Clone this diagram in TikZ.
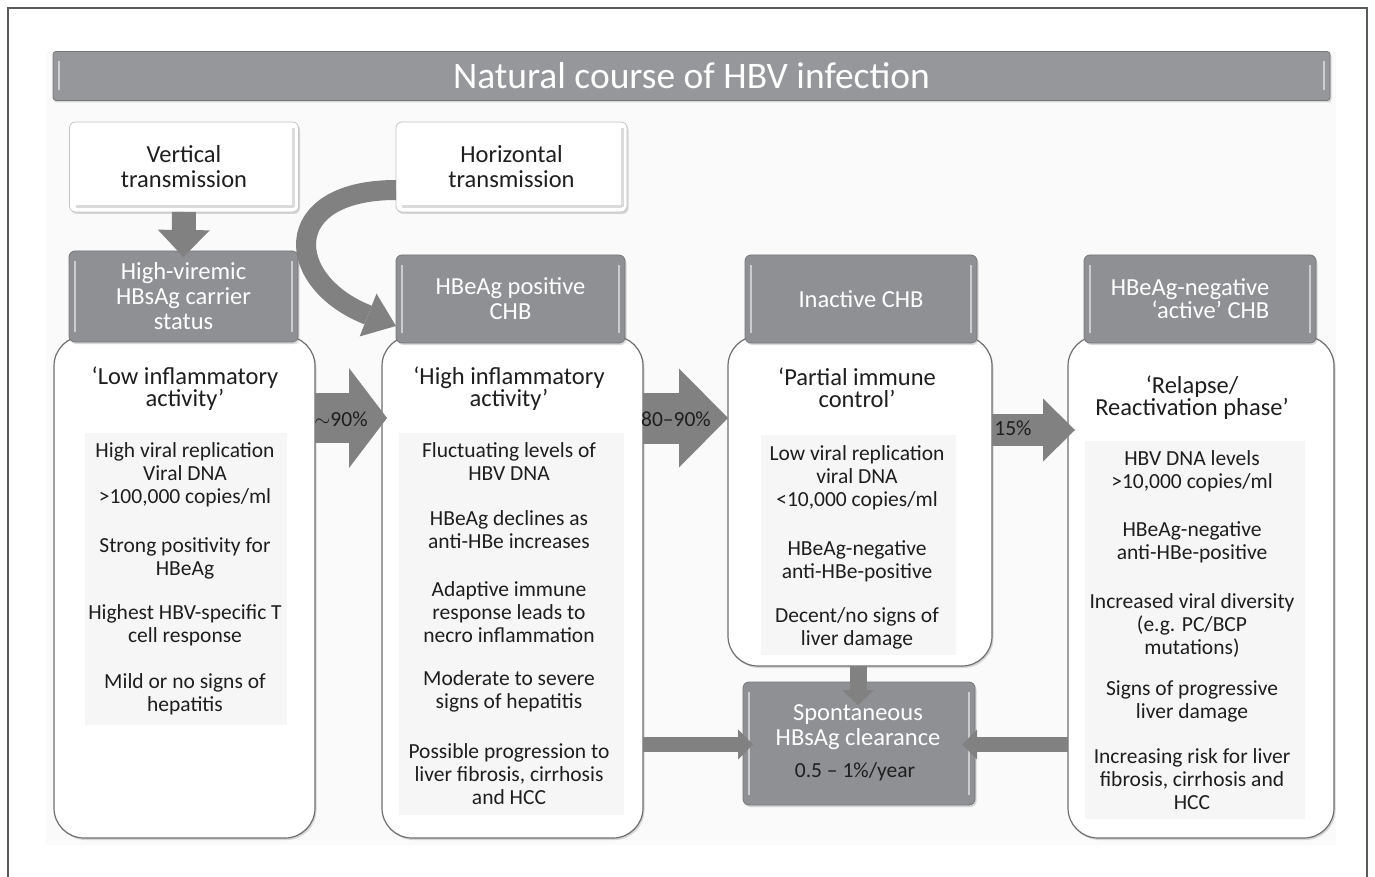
\documentclass[tikz,border=0pt]{standalone}
\usepackage{fontspec}
\setmainfont{Carlito}
\usetikzlibrary{arrows.meta,shadows,calc}
\definecolor{hdr}{HTML}{8F9093}
\definecolor{hdrline}{HTML}{76777A}
\definecolor{arr}{HTML}{818181}
\definecolor{titlec}{HTML}{96979A}
\definecolor{tline}{HTML}{6F6F6F}
\definecolor{lbline}{HTML}{C4C4C4}
\definecolor{bgpanel}{HTML}{FAFAFA}
\definecolor{txtpanel}{HTML}{F6F6F6}
\definecolor{txt}{HTML}{1E1E1E}
\definecolor{framec}{HTML}{5A5A5A}
\begin{document}
\begin{tikzpicture}[x=1pt,y=-1pt,
  every node/.style={inner sep=0pt, outer sep=0pt},
  shadowed/.style={drop shadow={shadow xshift=1.5pt, shadow yshift=-2pt, opacity=0.3}},
  hilite/.style={path picture={\draw[white, line width=1.6pt, opacity=0.55]
      ([xshift=6pt,yshift=-10pt]path picture bounding box.north west) -- ([xshift=6pt,yshift=10pt]path picture bounding box.south west)
      ([xshift=-6pt,yshift=-10pt]path picture bounding box.north east) -- ([xshift=-6pt,yshift=10pt]path picture bounding box.south east);}},
  lowlite/.style={path picture={\draw[black!14, line width=3pt]
      ([xshift=-5pt,yshift=-6pt]path picture bounding box.north east) -- ([xshift=-5pt,yshift=5pt]path picture bounding box.south east)
      ([xshift=6pt,yshift=5pt]path picture bounding box.south west) -- ([xshift=-5pt,yshift=5pt]path picture bounding box.south east);}},
  titlebar/.style={draw=hdrline, line width=0.8pt, fill=titlec, rounded corners=3pt, text=white, font=\fontsize{37.5}{38}\selectfont, shadowed, hilite},
  darkbox/.style={draw=hdrline, line width=0.8pt, fill=hdr, rounded corners=6pt, text=white, align=center, font=\fontsize{24.5}{25}\selectfont, shadowed, hilite},
  lightbox/.style={draw=lbline, line width=0.8pt, fill=white, rounded corners=6pt, text=txt, align=center, font=\fontsize{24.5}{25}\selectfont, shadowed, lowlite},
  tallbox/.style={draw=tline, line width=1.2pt, fill=white, rounded corners=30pt, shadowed},
  panelbox/.style={fill=txtpanel},
  body/.style={text=txt, align=center, font=\fontsize{21.5}{23}\selectfont},
  quotetxt/.style={text=txt, align=center, font=\fontsize{24.5}{22}\selectfont},
  pct/.style={text=txt, font=\fontsize{21.5}{22}\selectfont},
  blockarr/.style={draw=arr, line width=#1},
]
\useasboundingbox (0,0) rectangle (1375,877);
% background panel and frame
\fill[bgpanel] (46,52) rectangle (1336,845);
\draw[framec, line width=1.3pt] (8,877) -- (8,8) -- (1367,8) -- (1367,877);

% title
\node[titlebar, minimum width=1277pt, minimum height=49pt] (title) at (691.5,76) {Natural course of HBV infection};

% tall white boxes
\node[tallbox, minimum width=261pt, minimum height=502pt] (w1) at (184.5,587) {};
\node[tallbox, minimum width=261pt, minimum height=502pt] (w2) at (512.5,587) {};
\node[tallbox, minimum width=264pt, minimum height=330pt] (w3) at (860,501) {};
\node[tallbox, minimum width=266pt, minimum height=502pt] (w4) at (1201,587) {};

% faint text panels
\node[panelbox, minimum width=202pt, minimum height=292pt] (pn1) at (186,579) {};
\node[panelbox, minimum width=225pt, minimum height=382pt] (pn2) at (511,624) {};
\node[panelbox, minimum width=195pt, minimum height=220pt] (pn3) at (858,545) {};
\node[panelbox, minimum width=220pt, minimum height=378pt] (pn4) at (1195,630) {};

% header boxes
\node[lightbox, minimum width=229pt, minimum height=90pt] (vt) at (184,167) {Vertical\\transmission};
\node[lightbox, minimum width=231pt, minimum height=90pt] (hz) at (511.5,167) {Horizontal\\transmission};
\node[darkbox, minimum width=229pt, minimum height=91pt] (hv) at (183.5,296.5) {High-viremic\\HBsAg carrier\\status};
\node[darkbox, minimum width=229pt, minimum height=88pt] (hp) at (510.5,299) {HBeAg positive\\CHB};
\node[darkbox, minimum width=232pt, minimum height=88pt] (ic) at (861,299) {Inactive CHB};
\node[darkbox, minimum width=232pt, minimum height=88pt] (hn) at (1200,299) {};
\node[text=white, align=right, font=\fontsize{24.5}{23}\selectfont] (hnt) at (1190,299) {HBeAg-negative\\‘active’ CHB};
\node[darkbox, minimum width=232pt, minimum height=123pt] (sp) at (859,743.5) {};
\node[text=white, align=center, font=\fontsize{24.5}{25}\selectfont] (spt) at (858,727) {Spontaneous\\HBsAg clearance};
\node[text=txt, font=\fontsize{21.5}{22}\selectfont] (spr) at (855,772) {0.5 – 1\%/year};

% body texts box 1
\node[quotetxt] (q1) at (185,389) {‘Low inflammatory\\activity’};
\node[body] (t11) at (185,475) {High viral replication\\Viral DNA\\>100,000 copies/ml};
\node[body] (t12) at (185,558.5) {Strong positivity for\\HBeAg};
\node[body] (t13) at (185,625) {Highest HBV-specific T\\cell response};
\node[body] (t14) at (185,694) {Mild or no signs of\\hepatitis};
% box 2
\node[quotetxt] (q2) at (509,389) {‘High inflammatory\\activity’};
\node[body] (t21) at (509,461.5) {Fluctuating levels of\\HBV DNA};
\node[body] (t22) at (509,530) {HBeAg declines as\\anti-HBe increases};
\node[body] (t23) at (509,612.5) {Adaptive immune\\response leads to\\necro inflammation};
\node[body] (t24) at (509,691.5) {Moderate to severe\\signs of hepatitis};
\node[body] (t25) at (509,774.5) {Possible progression to\\liver fibrosis, cirrhosis\\and HCC};
% box 3
\node[quotetxt] (q3) at (857,387.5) {‘Partial immune\\control’};
\node[body] (t31) at (857,477.5) {Low viral replication\\viral DNA\\<10,000 copies/ml};
\node[body] (t32) at (857,561.5) {HBeAg-negative\\anti-HBe-positive};
\node[body] (t33) at (857,628) {Decent/no signs of\\liver damage};
% box 4
\node[quotetxt] (q4) at (1192,398) {‘Relapse/\\Reactivation phase’};
\node[body] (t41) at (1192,471) {HBV DNA levels\\>10,000 copies/ml};
\node[body] (t42) at (1192,542.5) {HBeAg-negative\\anti-HBe-positive};
\node[body] (t43) at (1192,625.5) {Increased viral diversity\\(e.g. PC/BCP\\mutations)};
\node[body] (t44) at (1192,701) {Signs of progressive\\liver damage};
\node[body] (t45) at (1192,779.5) {Increasing risk for liver\\fibrosis, cirrhosis and\\HCC};

% block arrows between phases
\draw[blockarr=50pt, -{Triangle[length=38pt,width=100pt,line width=0pt]}, shorten >=-5pt] (w1.east |- 0,418) -- (w2.west |- 0,418);
\draw[blockarr=51pt, -{Triangle[length=49pt,width=99pt,line width=0pt]}] (w2.east |- 0,418) -- (w3.west |- 0,418);
\draw[blockarr=32pt, -{Triangle[length=32pt,width=63pt,line width=0pt]}, shorten >=-7pt] (w3.east |- 0,430) -- (w4.west |- 0,430);
\node[pct] (p1) at (341,419) {$\sim$90\%};
\node[pct] (p2) at (676,419) {80–90\%};
\node[pct] (p3) at (1013,428) {15\%};

% transmission arrows
\draw[blockarr=24pt, -{Triangle[length=27pt,width=52pt,line width=0pt]}, shorten >=-6pt] (vt.south) -- (hv.north);
\draw[blockarr=20pt, -{Triangle[length=30pt,width=46pt,line width=0pt]}] (hz.west |- 0,190) .. controls (278,190) and (284,282) .. (hp.west |- 0,326);

% arrows into spontaneous clearance
\draw[blockarr=17pt, -{Triangle[length=15pt,width=32pt,line width=0pt]}, shorten >=-23pt] (w3.south -| 858,0) -- (sp.north -| 858,0);
\draw[blockarr=15pt, -{Triangle[length=15pt,width=30pt,line width=0pt]}, shorten >=-10pt] (w2.east |- 0,744.5) -- (sp.west |- 0,744.5);
\draw[blockarr=15pt, -{Triangle[length=15pt,width=30pt,line width=0pt]}, shorten >=-13pt] (w4.west |- 0,744.5) -- (sp.east |- 0,744.5);
\end{tikzpicture}
\end{document}
